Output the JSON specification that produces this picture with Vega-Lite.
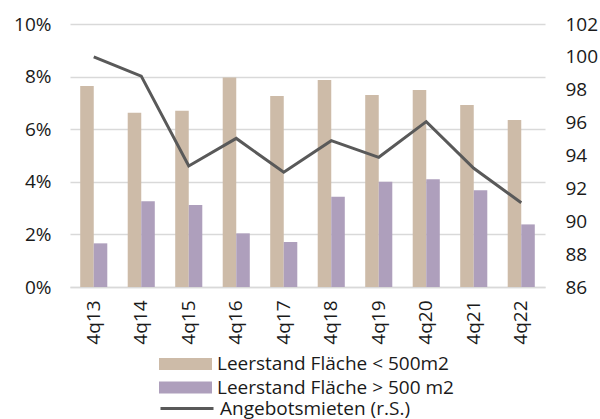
{
  "$schema": "https://vega.github.io/schema/vega-lite/v6.json",
  "width": 475,
  "height": 263,
  "autosize": {"type": "none"},
  "padding": {"left": 70, "top": 24, "right": 55, "bottom": 132},
  "config": {
    "font": "Open Sans",
    "view": {"stroke": null},
    "axis": {
      "labelFont": "Open Sans",
      "labelFontSize": 19,
      "labelColor": "#1a1a1a",
      "ticks": false,
      "domain": false,
      "title": null,
      "gridColor": "#d9d9d9",
      "gridWidth": 1.5
    },
    "legend": {
      "labelFont": "Open Sans",
      "labelFontSize": 19,
      "labelColor": "#1a1a1a",
      "labelLimit": 0,
      "padding": 0
    }
  },
  "datasets": {
    "bars": [
      {"q": "4q13", "series": "Leerstand Fläche < 500m2", "value": 7.64},
      {"q": "4q14", "series": "Leerstand Fläche < 500m2", "value": 6.63},
      {"q": "4q15", "series": "Leerstand Fläche < 500m2", "value": 6.70},
      {"q": "4q16", "series": "Leerstand Fläche < 500m2", "value": 7.97},
      {"q": "4q17", "series": "Leerstand Fläche < 500m2", "value": 7.26},
      {"q": "4q18", "series": "Leerstand Fläche < 500m2", "value": 7.87},
      {"q": "4q19", "series": "Leerstand Fläche < 500m2", "value": 7.30},
      {"q": "4q20", "series": "Leerstand Fläche < 500m2", "value": 7.49},
      {"q": "4q21", "series": "Leerstand Fläche < 500m2", "value": 6.92},
      {"q": "4q22", "series": "Leerstand Fläche < 500m2", "value": 6.35},
      {"q": "4q13", "series": "Leerstand Fläche > 500 m2", "value": 1.66},
      {"q": "4q14", "series": "Leerstand Fläche > 500 m2", "value": 3.26},
      {"q": "4q15", "series": "Leerstand Fläche > 500 m2", "value": 3.12},
      {"q": "4q16", "series": "Leerstand Fläche > 500 m2", "value": 2.04},
      {"q": "4q17", "series": "Leerstand Fläche > 500 m2", "value": 1.71},
      {"q": "4q18", "series": "Leerstand Fläche > 500 m2", "value": 3.43},
      {"q": "4q19", "series": "Leerstand Fläche > 500 m2", "value": 4.00},
      {"q": "4q20", "series": "Leerstand Fläche > 500 m2", "value": 4.10},
      {"q": "4q21", "series": "Leerstand Fläche > 500 m2", "value": 3.68},
      {"q": "4q22", "series": "Leerstand Fläche > 500 m2", "value": 2.38}
    ],
    "rent": [
      {"q": "4q13", "series": "Angebotsmieten (r.S.)", "rent": 100.0},
      {"q": "4q14", "series": "Angebotsmieten (r.S.)", "rent": 98.83},
      {"q": "4q15", "series": "Angebotsmieten (r.S.)", "rent": 93.36},
      {"q": "4q16", "series": "Angebotsmieten (r.S.)", "rent": 95.04},
      {"q": "4q17", "series": "Angebotsmieten (r.S.)", "rent": 92.98},
      {"q": "4q18", "series": "Angebotsmieten (r.S.)", "rent": 94.9},
      {"q": "4q19", "series": "Angebotsmieten (r.S.)", "rent": 93.89},
      {"q": "4q20", "series": "Angebotsmieten (r.S.)", "rent": 96.06},
      {"q": "4q21", "series": "Angebotsmieten (r.S.)", "rent": 93.22},
      {"q": "4q22", "series": "Angebotsmieten (r.S.)", "rent": 91.13}
    ]
  },
  "layer": [
    {
      "data": {"name": "bars"},
      "mark": {"type": "bar"},
      "encoding": {
        "x": {
          "field": "q",
          "type": "nominal",
          "scale": {"paddingInner": 0.43, "paddingOuter": 0.215},
          "axis": {
            "labelAngle": -90,
            "labelAlign": "right",
            "labelBaseline": "middle",
            "labelPadding": 13,
            "domain": true,
            "domainColor": "#d9d9d9",
            "domainWidth": 1.5
          }
        },
        "xOffset": {
          "field": "series",
          "type": "nominal",
          "sort": ["Leerstand Fläche < 500m2", "Leerstand Fläche > 500 m2"],
          "scale": {"paddingInner": 0, "paddingOuter": 0}
        },
        "y": {
          "field": "value",
          "type": "quantitative",
          "scale": {"domain": [0, 10], "nice": false},
          "axis": {
            "values": [0, 2, 4, 6, 8, 10],
            "labelExpr": "datum.value + '%'",
            "grid": true,
            "labelPadding": 19
          }
        },
        "color": {
          "field": "series",
          "type": "nominal",
          "scale": {
            "domain": ["Leerstand Fläche < 500m2", "Leerstand Fläche > 500 m2"],
            "range": ["#cdbba8", "#ae9fbc"]
          },
          "legend": {
            "title": null,
            "orient": "none",
            "legendX": 89,
            "legendY": 329,
            "direction": "vertical",
            "symbolType": "M-1,-0.226H1V0.226H-1Z",
            "symbolSize": 2809,
            "symbolStrokeWidth": 0,
            "symbolOpacity": 1,
            "clipHeight": 22,
            "rowPadding": 1.5,
            "labelOffset": 5
          }
        }
      }
    },
    {
      "data": {"name": "rent"},
      "mark": {"type": "line", "strokeWidth": 3},
      "encoding": {
        "x": {"field": "q", "type": "nominal"},
        "y": {
          "field": "rent",
          "type": "quantitative",
          "scale": {"domain": [86, 102], "nice": false, "zero": false},
          "axis": {
            "orient": "right",
            "values": [86, 88, 90, 92, 94, 96, 98, 100, 102],
            "grid": false,
            "labelPadding": 20
          }
        },
        "stroke": {
          "field": "series",
          "type": "nominal",
          "scale": {"range": ["#595959"]},
          "legend": {
            "title": null,
            "orient": "none",
            "legendX": 89,
            "legendY": 373.5,
            "symbolType": "stroke",
            "symbolSize": 2809,
            "symbolStrokeWidth": 3,
            "clipHeight": 22,
            "labelOffset": 5
          }
        }
      }
    }
  ],
  "resolve": {"scale": {"y": "independent"}}
}
